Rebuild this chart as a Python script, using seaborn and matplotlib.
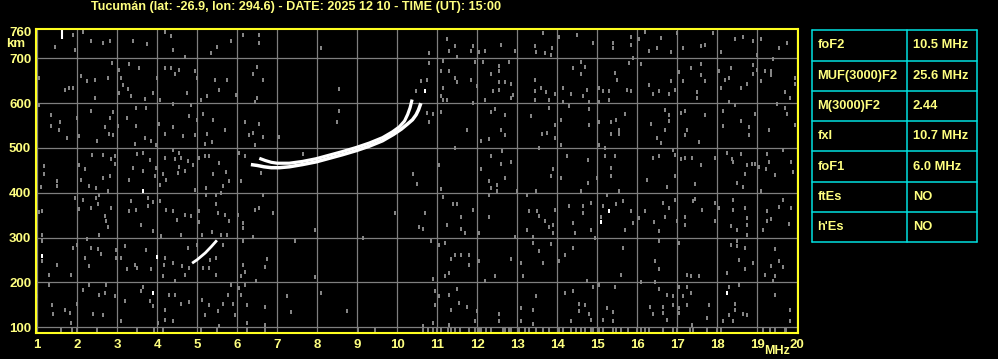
import matplotlib
matplotlib.use("Agg")
import matplotlib.pyplot as plt
import seaborn as sns
import numpy as np
import pandas as pd

# ---------------- data ----------------
title_text = "Tucumán (lat: -26.9, lon: 294.6) - DATE: 2025 12 10 - TIME (UT): 15:00"

x_ticks = list(range(1, 21))
y_grid = [100, 200, 300, 400, 500, 600, 700]
y_ticks = [100, 200, 300, 400, 500, 600, 700, 760]

# F2 ordinary trace
o_freq = [6.55, 6.70, 6.85, 7.00, 7.30, 7.63, 7.97, 8.30, 8.63, 8.97, 9.30, 9.63, 9.88, 10.05, 10.18, 10.26, 10.32, 10.37]
o_height = [477, 472, 468, 466, 466, 470, 476, 484, 492, 501, 511, 523, 536, 547, 560, 575, 590, 608]
# F2 extraordinary trace
x_freq = [6.34, 6.50, 6.67, 6.85, 7.05, 7.30, 7.63, 7.97, 8.30, 8.63, 8.97, 9.30, 9.63, 9.90, 10.10, 10.25, 10.38, 10.47, 10.53, 10.59]
x_height = [463, 461, 458, 456, 456, 458, 463, 469, 477, 485, 494, 504, 516, 530, 542, 553, 563, 574, 585, 600]
# short low trace
e_freq = [4.87, 5.00, 5.20, 5.35, 5.49]
e_height = [243, 251, 266, 280, 294]
# white vertical mark at top-left
mark_freq = [1.63, 1.63]
mark_height = [742, 765]
# isolated white echoes
spot_freq = [3.63, 1.13, 3.98, 3.88, 10.68, 15.09, 15.28, 18.23]
spot_height = [405, 258, 256, 177, 628, 334, 359, 177]

# gray noise dots
noise_freq = [
    1.88, 2.13, 2.34, 2.63, 2.82, 3.38, 3.73, 4.20, 4.34, 4.38, 4.70, 5.34, 5.49, 5.83, 1.95, 1.43,
    2.87, 3.03, 3.30, 3.55, 3.09, 3.13, 3.26, 3.05, 3.34, 2.09, 2.23, 2.43, 2.76, 1.80, 1.70, 1.88, 2.43, 3.68, 3.88, 3.98,
    4.18, 4.34, 4.55, 4.43, 4.93, 4.99, 4.73, 5.09, 5.23, 5.44, 5.74, 5.53, 1.03, 4.07,
    1.03, 1.34, 1.34, 1.57, 1.53, 1.73, 1.98, 2.03, 2.34, 2.48, 2.68, 2.82, 2.90, 2.78, 2.90, 3.01, 3.23, 3.47, 3.72, 3.47,
    3.45, 3.70, 3.84, 3.97, 4.05, 4.18, 4.38, 4.38, 4.63, 4.84, 4.80, 4.95, 5.00, 5.13, 5.38, 5.24, 5.19, 5.68, 5.36,
    1.18, 1.18, 1.48, 1.48, 1.09, 2.05, 2.09, 2.20, 2.30, 2.36, 2.63, 2.84, 2.93, 2.94, 2.82, 2.63, 2.47, 2.76, 3.30, 3.38,
    3.48, 3.63, 3.65, 3.82, 3.93, 4.07, 3.97, 4.13, 4.20, 4.22, 4.40, 4.45, 4.55, 4.59, 4.53, 4.51, 4.70, 4.76, 4.88, 4.93,
    5.05, 5.18, 5.28, 5.38, 5.53, 5.72, 5.78, 5.63, 5.22,
    1.03, 1.13, 1.13, 1.95, 2.03, 2.13, 2.34, 2.47, 2.53, 2.51, 2.68, 2.72, 2.84, 2.76, 3.30, 3.34, 3.47, 3.59, 3.76, 3.88,
    3.76, 3.88, 4.07, 4.22, 4.38, 4.49, 4.68, 4.84, 5.03, 5.05, 5.12, 5.22, 5.47, 5.47, 5.59, 5.51, 5.68, 5.80, 5.73, 5.37,
    5.59, 4.09, 4.59, 2.53,
    1.13, 1.13, 1.48, 1.28, 1.84, 1.88, 1.98, 2.23, 2.34, 2.51, 2.59, 2.20, 2.30, 2.97, 2.97, 3.09, 3.20, 3.23, 3.43, 3.49,
    3.72, 3.84, 4.18, 4.16, 4.38, 4.62, 4.68, 4.80, 4.15, 4.45, 4.76, 5.13, 5.30, 5.47, 5.47, 5.63, 5.00, 5.32, 2.72,
    1.28, 1.00, 1.38, 1.40, 1.68, 1.82, 1.84, 1.98, 2.13, 2.28, 2.40, 2.53, 2.68, 2.63, 2.93, 3.09, 3.18, 3.63, 3.59, 3.82,
    3.90, 4.01, 4.18, 4.30, 4.45, 4.18, 4.38, 4.59, 4.80, 5.12, 5.18, 5.30, 5.51, 5.55, 5.63, 5.76, 5.90, 5.93, 5.84,
    6.13, 6.53, 6.53, 8.09, 10.78, 6.49, 6.38, 6.63, 6.48, 6.43, 8.53, 10.78, 10.73, 10.59, 10.47, 5.97, 6.20, 6.38, 6.30, 6.53,
    6.63, 7.03, 8.53, 8.48, 10.88, 10.73, 10.78, 6.43, 6.05, 6.09, 6.18, 6.59, 10.38, 10.49, 7.63, 6.63, 6.44, 6.53, 6.88, 6.01,
    6.15, 6.15, 6.38, 7.94, 9.13, 9.93, 10.68, 10.53, 10.63, 6.13, 7.44, 6.73, 6.68, 6.13, 6.18, 6.09, 6.47, 7.94, 10.84, 10.88,
    6.18, 6.05, 6.09, 6.23, 6.69, 7.23, 7.34, 8.09, 8.73, 6.24, 6.68, 10.63, 10.88, 10.93, 10.93,
    11.23, 11.43, 11.28, 11.48, 11.84, 11.88, 12.03, 12.20, 12.59, 12.95, 13.63, 13.45, 13.47, 13.68, 13.87, 13.84, 14.03, 14.48,
    14.88, 15.38, 15.38, 15.84, 15.84,
    11.13, 11.09, 11.28, 11.43, 11.48, 11.84, 11.13, 11.09, 11.13, 11.23, 11.88, 11.95, 12.13, 11.98, 12.34, 12.53, 12.53, 12.53,
    12.53, 12.68, 12.78, 12.84, 12.90, 12.84, 12.38, 12.20, 13.44, 13.43, 13.45, 13.59, 13.72, 13.78, 13.95, 14.13, 14.15, 14.34,
    14.38, 14.59, 14.68, 14.59, 14.74, 14.63, 15.03, 15.03, 15.13, 15.28, 15.30, 15.45, 15.49, 15.73, 15.84, 15.78, 15.88, 14.80,
    11.09, 11.73, 12.09, 12.28, 12.34, 12.45, 12.59, 12.68, 12.68, 13.34, 13.62, 13.73, 13.78, 13.93, 13.95, 14.09, 14.09, 14.28,
    14.78, 14.78, 15.03, 15.03, 15.34, 15.34, 15.53, 15.53, 15.70, 15.47,
    11.03, 11.09, 11.43, 12.09, 12.28, 12.34, 12.48, 12.48, 12.59, 12.62, 12.84, 12.68, 12.34, 13.53, 13.88, 13.84, 14.09, 14.23,
    14.59, 14.76, 14.76, 14.99, 15.20, 15.18, 15.34, 15.34, 15.45, 15.53, 13.47, 12.98,
    11.13, 11.38, 11.48, 11.59, 11.59, 11.24, 11.70, 11.88, 12.03, 12.28, 12.28, 12.94, 13.23, 13.28, 13.23, 13.38, 13.48, 13.55,
    13.68, 13.80, 13.88, 13.88, 13.95, 14.28, 14.38, 14.43, 14.63, 14.63, 14.84, 14.84, 14.95, 15.09, 15.47, 15.63, 15.84, 15.88,
    15.70, 15.24, 15.15,
    11.03, 11.18, 11.34, 11.43, 11.28, 11.18, 11.59, 11.78, 11.78, 12.03, 12.20, 12.45, 12.84, 13.09, 13.15, 13.38, 13.53, 13.63,
    13.84, 14.03, 14.20, 14.38, 14.73, 15.63, 15.59,
    11.03, 11.30, 11.34, 11.48, 11.55, 11.74, 11.98, 11.95, 12.53, 12.53, 13.47, 13.38, 13.09, 13.09, 13.38, 14.18, 14.38, 14.53,
    14.55, 14.70, 14.78, 14.84, 14.88, 15.03, 15.13, 15.23, 15.38, 15.45, 15.38, 14.34, 11.30,
    16.19, 16.58, 16.48, 16.83, 16.98, 17.13, 17.58, 17.69, 17.88, 18.09, 18.44, 18.63, 18.88, 19.09, 18.98, 19.53, 19.73, 16.30, 16.05,
    16.08, 16.29, 16.38, 16.55, 16.83, 16.94, 16.78, 17.03, 17.13, 17.33, 17.48, 17.48, 17.58, 17.69, 17.58, 18.05, 18.08, 18.19,
    18.30, 18.33, 18.58, 18.73, 18.30, 18.88, 18.88, 18.98, 19.19, 19.34, 19.34, 19.09, 19.69, 19.82, 19.94, 19.94, 19.38,
    16.33, 16.48, 16.58, 16.69, 16.78, 16.80, 16.69, 17.08, 17.19, 17.19, 17.25, 17.55, 17.69, 18.13, 18.13, 18.44, 18.58, 18.79,
    18.80, 18.94, 19.28, 19.48, 19.69, 19.73, 19.94,
    16.38, 16.55, 16.88, 16.94, 16.94, 17.08, 17.19, 17.36, 17.58, 17.44, 17.94, 18.23, 18.36, 18.40, 18.58, 18.73, 18.69, 18.86,
    18.94, 19.03, 19.22, 19.25, 19.30, 19.44, 19.63, 19.84, 19.88, 18.48, 18.63, 19.08, 16.73, 16.23,
    16.05, 16.19, 16.42, 16.55, 16.63, 16.69, 16.80, 16.94, 16.98, 17.19, 17.19, 17.38, 17.44, 17.61, 17.94, 17.94, 18.05, 18.33,
    18.38, 18.40, 18.48, 18.69, 18.73, 18.73, 18.73, 19.13, 19.23, 19.23, 19.34, 19.53, 19.63, 19.80, 19.84,
    16.55, 17.05, 16.44, 16.55, 17.25, 17.33, 17.55, 18.48, 18.33, 18.48, 18.69, 18.55, 18.23, 18.69, 18.90, 19.19, 19.34, 19.44,
    19.44, 19.55, 19.63, 19.40,
    16.08, 16.44, 16.55, 16.73, 16.88, 17.03, 17.13, 17.25, 17.33, 17.25, 17.03, 17.03, 16.88, 16.65, 16.65, 16.32, 16.38, 16.75,
    17.36, 17.78, 17.73, 18.13, 18.30, 18.53, 18.44, 18.44, 18.30, 18.40, 18.63, 18.73, 19.44, 19.82, 19.82,
]
noise_height = [
    753, 758, 739, 734, 739, 739, 732, 758, 749, 719, 704, 712, 725, 739, 719, 725,
    690, 675, 687, 678, 656, 641, 632, 623, 615, 661, 649, 652, 656, 634, 630, 634, 612, 610, 623, 656,
    678, 678, 675, 664, 671, 656, 623, 608, 615, 652, 652, 630, 656, 608,
    595, 573, 548, 558, 541, 522, 567, 527, 582, 515, 546, 567, 580, 531, 528, 548, 567, 589, 589, 548,
    509, 522, 516, 507, 554, 531, 597, 546, 526, 595, 571, 530, 563, 576, 563, 531, 509, 539, 513,
    459, 443, 426, 415, 412, 461, 429, 452, 415, 484, 485, 476, 481, 465, 437, 433, 411, 403, 428, 455,
    487, 489, 448, 474, 438, 418, 455, 441, 478, 429, 496, 476, 489, 478, 457, 444, 448, 470, 463, 407,
    478, 481, 483, 441, 467, 446, 426, 415, 411,
    357, 360, 307, 388, 364, 383, 365, 388, 396, 374, 348, 336, 366, 323, 359, 381, 362, 329, 388, 380,
    370, 314, 381, 362, 359, 340, 351, 348, 359, 334, 307, 396, 396, 374, 400, 355, 351, 338, 307, 313,
    307, 304, 307, 305,
    292, 247, 240, 217, 217, 277, 284, 296, 277, 275, 264, 255, 236, 273, 255, 255, 281, 231, 240, 232,
    273, 231, 255, 240, 243, 236, 217, 232, 214, 203, 277, 232, 232, 217, 255, 284, 284, 251, 195,
    195, 169, 149, 130, 139, 132, 110, 152, 184, 195, 130, 173, 177, 128, 169, 113, 158, 191, 180, 158,
    147, 110, 139, 173, 173, 117, 113, 152, 157, 162, 128, 149, 137, 102, 151, 173, 151, 128, 195,
    753, 753, 734, 722, 712, 681, 665, 652, 612, 603, 632, 690, 652, 650, 626, 619, 558, 533, 528, 554,
    524, 524, 583, 558, 576, 578, 558, 506, 489, 426, 481, 444, 442, 420, 487, 396, 362, 365, 355, 351,
    333, 321, 301, 316, 299, 355, 355, 323, 319, 292, 293, 253, 234, 240, 223, 214, 203, 213, 292, 208,
    195, 188, 173, 149, 145, 169, 134, 177, 137, 110, 105, 104, 110, 149, 180,
    744, 727, 717, 702, 716, 727, 714, 717, 730, 717, 757, 727, 714, 712, 722, 708, 747, 753,
    734, 734, 722, 747, 730,
    693, 671, 671, 656, 647, 652, 634, 615, 608, 608, 600, 692, 692, 638, 665, 682, 672, 647,
    630, 647, 692, 643, 619, 612, 626, 608, 652, 626, 608, 634, 625, 608, 620, 634, 603, 620,
    678, 692, 680, 665, 630, 615, 634, 603, 626, 626, 608, 667, 652, 630, 626, 690, 701, 603,
    580, 541, 516, 521, 580, 586, 541, 528, 573, 571, 531, 533, 589, 551, 522, 563, 506, 593,
    586, 551, 558, 506, 558, 531, 541, 531, 576, 563,
    463, 409, 500, 452, 427, 483, 418, 405, 464, 494, 469, 433, 411, 500, 452, 437, 433, 483,
    405, 474, 422, 433, 483, 500, 455, 438, 483, 405, 405, 403,
    390, 374, 374, 345, 319, 329, 310, 362, 310, 345, 396, 301, 396, 360, 318, 301, 360, 348,
    338, 323, 329, 310, 362, 370, 333, 310, 370, 355, 377, 316, 299, 345, 374, 381, 360, 333,
    316, 396, 370,
    284, 288, 253, 262, 221, 214, 262, 262, 240, 249, 203, 214, 253, 243, 214, 288, 271, 243,
    286, 249, 262, 278, 204, 276, 217,
    169, 173, 139, 186, 154, 145, 136, 113, 130, 113, 169, 139, 143, 113, 107, 177, 182, 152,
    136, 149, 130, 117, 191, 195, 117, 143, 134, 191, 113, 113, 106,
    758, 745, 722, 714, 756, 722, 727, 730, 756, 714, 744, 747, 739, 744, 708, 722, 734, 717, 742,
    687, 640, 620, 628, 649, 630, 620, 670, 649, 678, 625, 612, 662, 649, 687, 671, 634, 652,
    656, 678, 634, 643, 603, 664, 684, 675, 671, 671, 662, 649, 625, 612, 656, 643, 699,
    554, 522, 511, 585, 574, 561, 541, 578, 583, 528, 541, 513, 573, 582, 548, 595, 561, 546,
    530, 576, 541, 598, 589, 576, 551,
    478, 483, 496, 484, 437, 476, 478, 478, 461, 420, 478, 489, 476, 469, 487, 461, 441, 464,
    464, 457, 452, 487, 469, 439, 496, 469, 446, 422, 414, 405, 412, 429,
    344, 360, 335, 314, 377, 345, 365, 383, 338, 345, 329, 381, 387, 362, 377, 338, 365, 326,
    385, 362, 318, 365, 344, 329, 307, 316, 360, 338, 342, 369, 383, 330, 365,
    292, 288, 247, 231, 217, 214, 214, 292, 284, 281, 277, 251, 221, 231, 243, 217, 236, 275,
    214, 249, 234, 203,
    201, 201, 186, 173, 169, 189, 169, 189, 177, 149, 143, 132, 149, 145, 132, 145, 130, 117,
    106, 149, 121, 113, 189, 195, 152, 139, 127, 113, 130, 127, 173, 139, 113,
]

# gray clutter bars just above the lower edge
baseline_freq = [1.59, 1.87, 1.99, 2.49, 3.49, 3.92, 4.13, 5.08, 5.48, 6.23, 6.69, 9.02, 9.44, 10.63, 10.77, 10.90,
                 11.00, 11.10, 11.27, 11.34, 11.43, 11.57, 11.78, 11.93, 12.05, 12.09, 12.22, 12.34, 12.63, 12.68, 12.78,
                 12.84, 13.03, 13.18, 13.28, 13.47, 13.63, 13.80, 14.05, 14.13, 14.34, 14.47, 14.59, 14.68, 14.84, 14.88,
                 15.05, 15.13, 15.38, 15.47, 15.59, 15.76, 16.00, 16.08, 16.19, 16.30, 16.63, 16.88, 16.98, 17.31, 17.40,
                 17.73, 17.98, 18.10, 19.15, 19.32, 19.44, 19.69, 19.72]
BASELINE_KM = 93

table_labels = ["foF2", "MUF(3000)F2", "M(3000)F2", "fxI", "foF1", "ftEs", "h'Es"]
table_values = ["10.5 MHz", "25.6 MHz", "2.44", "10.7 MHz", "6.0 MHz", "NO", "NO"]

# ---------------- styling ----------------
sns.set_theme(style="dark")
plt.rcParams["font.family"] = ["Liberation Sans", "DejaVu Sans"]
TXT = "#ffff80"
FRAME = "#ffff20"
GRID = "#7f7f7f"
CYAN = "#00e0e0"
PIXEL_MARK = [(-1, -1.5), (1, -1.5), (1, 1.5), (-1, 1.5)]  # 2x3 px style marker

W, H = 998, 359
fig = plt.figure(figsize=(W / 100, H / 100), dpi=100, facecolor="black")
ax = fig.add_axes([36 / W, 26 / H, 762 / W, 303.7 / H])
ax.set_facecolor("black")
ax.set_xlim(0.9675, 20.0175)
ax.set_ylim(87.3, 764.7)
ax.grid(False)

for xv in x_ticks:
    ax.axvline(xv, color=GRID, lw=0.9, zorder=1)
for yv in y_grid:
    ax.axhline(yv, color=GRID, lw=0.9, zorder=1)

# noise
noise_df = pd.DataFrame({"freq": noise_freq, "height": noise_height})
sns.scatterplot(data=noise_df, x="freq", y="height", ax=ax, marker=PIXEL_MARK, s=5.0,
                color="#858585", linewidth=0, legend=False, zorder=2)
base_df = pd.DataFrame({"freq": baseline_freq, "height": [BASELINE_KM] * len(baseline_freq)})
sns.scatterplot(data=base_df, x="freq", y="height", ax=ax, marker="|", s=16,
                color="#808080", linewidths=1.4, legend=False, zorder=2)

# echoes
for fx, hy, lw in [(x_freq, x_height, 2.5), (o_freq, o_height, 2.3), (e_freq, e_height, 2.0), (mark_freq, mark_height, 1.5)]:
    sns.lineplot(x=fx, y=hy, ax=ax, sort=False, estimator=None, color="white",
                 lw=lw, legend=False, zorder=4, solid_capstyle="butt")
sns.scatterplot(x=spot_freq, y=spot_height, ax=ax, marker=PIXEL_MARK, s=5.0, color="white",
                linewidth=0, legend=False, zorder=4)

# frame
for sp in ax.spines.values():
    sp.set_visible(True)
    sp.set_color(FRAME)
    sp.set_linewidth(1.5)
    sp.set_zorder(6)

ax.set_xticks(x_ticks)
ax.set_xticklabels([str(v) for v in x_ticks])
ax.set_yticks(y_ticks)
ax.set_yticklabels([str(v) for v in y_ticks])
ax.tick_params(axis="both", length=0, labelcolor=TXT, labelsize=9.5)
ax.tick_params(axis="x", pad=4.5)
ax.tick_params(axis="y", pad=3.5)
for lab in ax.get_xticklabels() + ax.get_yticklabels():
    lab.set_fontweight("bold")
ax.set_xlabel("")
ax.set_ylabel("")

fig.text(6 / W, 1 - 44 / H, "km", color=TXT, fontsize=9.5, fontweight="bold", ha="left", va="center")
fig.text(777 / W, 1 - 351 / H, "MHz", color=TXT, fontsize=9, fontweight="bold", ha="center", va="center")
fig.text(91 / W, 1 - 7 / H, title_text, color=TXT, fontsize=9.1, fontweight="bold", ha="left", va="center")

# parameter table
tax = fig.add_axes([812.3 / W, 1 - 242.3 / H, 165 / W, 212 / H])
tax.set_xlim(0, 165)
tax.set_ylim(len(table_labels), 0)
tax.axis("off")
n = len(table_labels)
for i in range(n + 1):
    tax.plot([0, 165], [i, i], color=CYAN, lw=1.1, clip_on=False)
for xv in [0, 94.7, 165]:
    tax.plot([xv, xv], [0, n], color=CYAN, lw=1.1, clip_on=False)
for i, (lab, val) in enumerate(zip(table_labels, table_values)):
    tax.text(5, i + 0.5, lab, color=TXT, fontsize=9.3, fontweight="bold", ha="left", va="center")
    tax.text(100.5, i + 0.5, val, color=TXT, fontsize=9.3, fontweight="bold", ha="left", va="center")

fig.savefig("out.png", dpi=100, facecolor="black")
